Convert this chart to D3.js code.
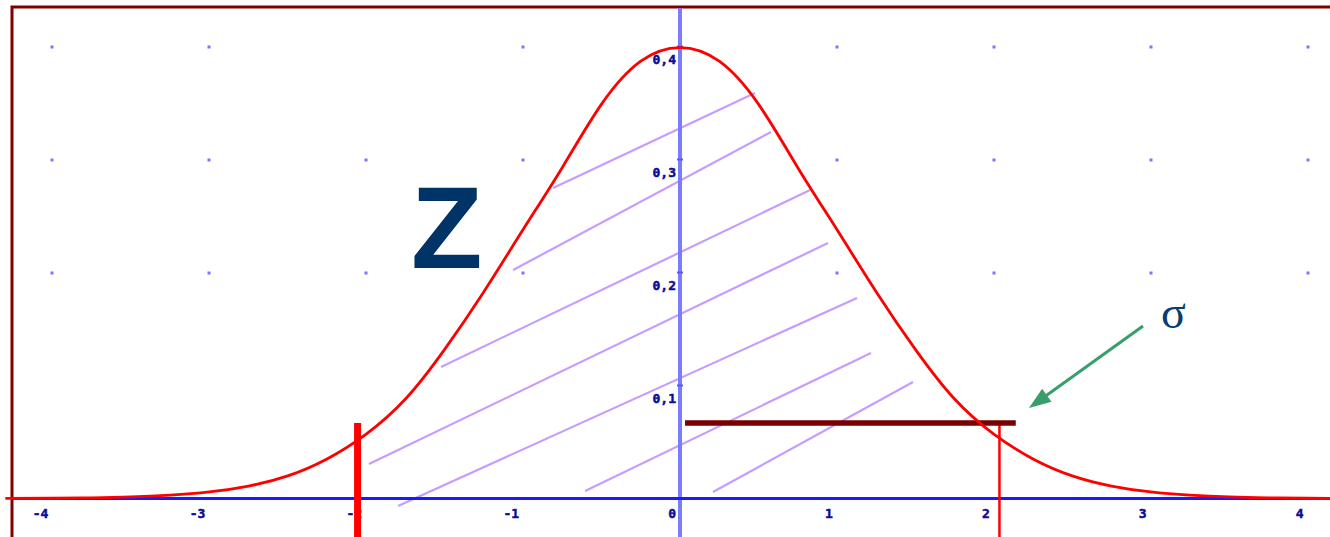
<!DOCTYPE html>
<html><head><meta charset="utf-8">
<script src="https://cdn.jsdelivr.net/npm/d3@7/dist/d3.min.js"></script>
<style>html,body{margin:0;padding:0;background:#fff;overflow:hidden}svg{display:block}</style>
</head><body>
<svg id="c" width="1330" height="537"></svg>
<script>
// ---- data ----
const curveX = [-4.3,-4.0,-3.75,-3.5,-3.25,-3.0,-2.75,-2.5,-2.25,-2.0,-1.75,-1.5,-1.25,-1.0,-0.75,-0.5,-0.25,0,0.25,0.5,0.75,1.0,1.25,1.5,1.75,2.0,2.25,2.5,2.75,3.0,3.25,3.5,3.75,4.0,4.3];
const curveY = [0.0001,0.0002,0.0006,0.0014,0.003,0.0058,0.011,0.020,0.035,0.057,0.088,0.132,0.183,0.238,0.293,0.349,0.387,0.399,0.387,0.349,0.293,0.238,0.183,0.132,0.088,0.057,0.035,0.020,0.011,0.0058,0.003,0.0014,0.0006,0.0002,0.0001];
const xTicks = [-4,-3,-2,-1,0,1,2,3,4];
const xTickLabels = ["-4","-3","-2","-1","0","1","2","3","4"];
const yTicks = [0.1,0.2,0.3,0.4];
const yTickLabels = ["0,1","0,2","0,3","0,4"];
const gridRows = [0.2,0.3,0.4];
const hatchX1 = [-0.809,-1.064,-1.523,-1.982,-1.797,-0.605,0.210];
const hatchY1 = [0.2748,0.2022,0.1164,0.0305,-0.0066,0.0066,0.0058];
const hatchX2 = [0.478,0.580,0.829,0.943,1.128,1.217,1.485];
const hatchY2 = [0.3588,0.3243,0.2730,0.2261,0.1774,0.1288,0.1031];
const leftCut = -2.055, rightCut = 2.036;
const sigmaBar = {x1:0.032, x2:2.14, y:0.0668};
const arrowFrom = [2.951,0.1527], arrowTo = [2.224,0.0801];
const zLabel = {text:"Z", x:-1.714, y:0.204};
const sigmaLabel = {text:"σ", x:3.066, y:0.1509};

// ---- scales ----
const svg = d3.select("#c");
const x = d3.scaleLinear().domain([-4,4]).range([52.4,1307.6]);
const y = d3.scaleLinear().domain([0,0.4]).range([498.5,46.5]);
const H = 537, W = 1330;

// frame
svg.append("rect").attr("x",12).attr("y",7).attr("width",W+10).attr("height",H+10)
  .attr("fill","#fff").attr("stroke","#800000").attr("stroke-width",3);

// grid dots
gridRows.forEach(r => xTicks.forEach(t => {
  if (t===0) return;
  if (t===-2 && r===0.4) return;
  svg.append("rect").attr("x",Math.round(x(t))-1.5).attr("y",Math.round(y(r))-1.5)
    .attr("width",3).attr("height",3).attr("fill","#7777ff");
}));

// hatch lines
svg.append("g").selectAll("line").data(hatchX1).join("line")
  .attr("x1",(d,i)=>x(hatchX1[i])).attr("y1",(d,i)=>y(hatchY1[i]))
  .attr("x2",(d,i)=>x(hatchX2[i])).attr("y2",(d,i)=>y(hatchY2[i]))
  .attr("stroke","#c69cff").attr("stroke-width",2.2);

// y axis
svg.append("line").attr("x1",x(0)).attr("x2",x(0)).attr("y1",8).attr("y2",H)
  .attr("stroke","#7b7bff").attr("stroke-width",4);
yTicks.forEach(t=>{
  svg.append("line").attr("x1",x(0)-3).attr("x2",x(0)+3).attr("y1",y(t)).attr("y2",y(t))
    .attr("stroke","#5a5af0").attr("stroke-width",2);
});
// x axis
svg.append("line").attr("x1",13).attr("x2",W).attr("y1",y(0)).attr("y2",y(0))
  .attr("stroke","#1a1aff").attr("stroke-width",3);

// tick labels
const lab = {"font-family":"DejaVu Sans Mono","font-weight":"bold","font-size":"13px","fill":"#0c0c9a","stroke":"#0c0c9a","stroke-width":"0.5"};
xTicks.forEach((t,i)=>{
  const tx = svg.append("text").attr("x",x(t)-4).attr("y",y(0)+19).attr("text-anchor","end").text(xTickLabels[i]);
  Object.entries(lab).forEach(([k,v])=>tx.attr(k,v));
});
yTicks.forEach((t,i)=>{
  const tx = svg.append("text").attr("x",x(0)-4).attr("y",y(t)+17).attr("text-anchor","end").text(yTickLabels[i]);
  Object.entries(lab).forEach(([k,v])=>tx.attr(k,v));
});

// cut lines
svg.append("line").attr("x1",x(rightCut)).attr("x2",x(rightCut)).attr("y1",y(sigmaBar.y)).attr("y2",H)
  .attr("stroke","#ff0000").attr("stroke-width",2.5);
svg.append("line").attr("x1",x(leftCut)).attr("x2",x(leftCut)).attr("y1",y(sigmaBar.y)).attr("y2",H)
  .attr("stroke","#ff0000").attr("stroke-width",7);

// sigma bar
svg.append("line").attr("x1",x(sigmaBar.x1)).attr("x2",x(sigmaBar.x2)).attr("y1",y(sigmaBar.y)).attr("y2",y(sigmaBar.y))
  .attr("stroke","#7a0000").attr("stroke-width",5.5);

// curve
const pts = curveX.map((v,i)=>[v,curveY[i]]);
svg.append("path").attr("d",d3.line().x(d=>x(d[0])).y(d=>y(d[1])).curve(d3.curveNatural)(pts))
  .attr("fill","none").attr("stroke","#ff0000").attr("stroke-width",2.8);

// arrow
const ax1=x(arrowFrom[0]), ay1=y(arrowFrom[1]), ax2=x(arrowTo[0]), ay2=y(arrowTo[1]);
const ang = Math.atan2(ay2-ay1, ax2-ax1), hl=22, hw=8;
const bx = ax2-hl*Math.cos(ang), by = ay2-hl*Math.sin(ang);
svg.append("line").attr("x1",ax1).attr("y1",ay1).attr("x2",bx+4*Math.cos(ang)).attr("y2",by+4*Math.sin(ang))
  .attr("stroke","#389e6c").attr("stroke-width",3);
svg.append("polygon").attr("points",[[ax2,ay2],[bx-hw*Math.sin(ang),by+hw*Math.cos(ang)],[bx+hw*Math.sin(ang),by-hw*Math.cos(ang)]].map(p=>p.join(",")).join(" "))
  .attr("fill","#389e6c");

// labels
svg.append("text").attr("x",x(zLabel.x)).attr("y",y(zLabel.y)).text(zLabel.text)
  .attr("font-family","Liberation Sans").attr("font-weight","bold").attr("font-size","117px").attr("fill","#003366");
svg.append("text").attr("x",x(sigmaLabel.x)).attr("y",y(sigmaLabel.y)).text(sigmaLabel.text)
  .attr("font-family","Liberation Serif").attr("font-size","46px").attr("fill","#0a3d6e");
</script>
</body></html>
